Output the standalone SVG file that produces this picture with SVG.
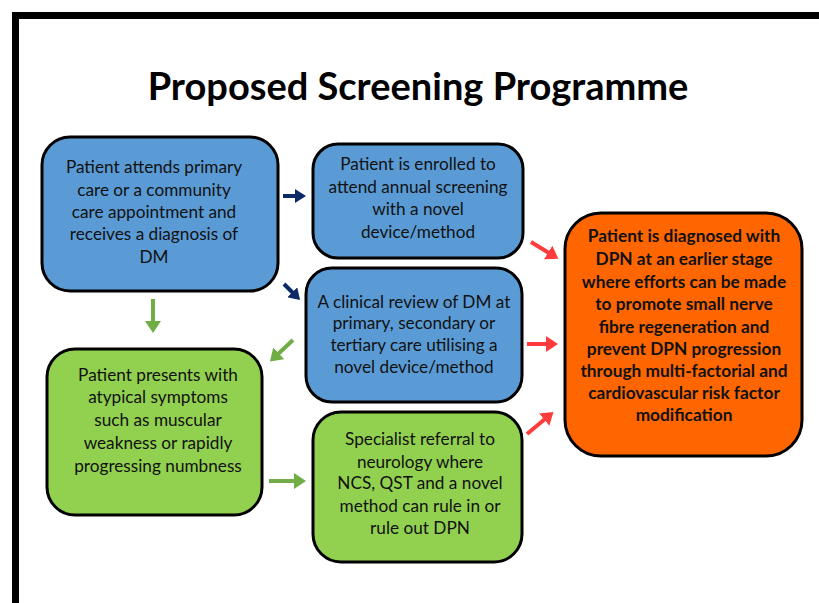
<svg xmlns="http://www.w3.org/2000/svg" width="819" height="603" viewBox="0 0 819 603">
<style>
.box{stroke:#000;stroke-width:3}
.blue{fill:#5B9BD5}
.green{fill:#92D050}
.orange{fill:#FF6600}
.t{font-family:Lato,"Open Sans",sans-serif;font-size:17.2px;fill:#111;text-anchor:middle}
.tb{font-family:Lato,"Open Sans",sans-serif;font-size:17.3px;font-weight:bold;fill:#111;text-anchor:middle}
.title{font-family:Lato,"Open Sans",sans-serif;font-size:38px;font-weight:bold;fill:#000;text-anchor:middle}
.an{stroke:#0E2A66;stroke-width:4;fill:none}
.ag{stroke:#70AD47;stroke-width:4;fill:none}
.ar{stroke:#FF3B3B;stroke-width:4;fill:none}
</style>
<defs>
<marker id="hn" markerUnits="userSpaceOnUse" markerWidth="12" markerHeight="14" refX="1" refY="7" orient="auto"><path d="M0,0 L11,7 L0,14 Z" fill="#0E2A66"/></marker>
<marker id="hg" markerUnits="userSpaceOnUse" markerWidth="13" markerHeight="16" refX="1" refY="8" orient="auto"><path d="M0,0 L12,8 L0,16 Z" fill="#70AD47"/></marker>
<marker id="hr" markerUnits="userSpaceOnUse" markerWidth="13" markerHeight="16" refX="1" refY="8" orient="auto"><path d="M0,0 L12,8 L0,16 Z" fill="#FF3B3B"/></marker>
</defs>
<rect x="0" y="0" width="819" height="603" fill="#fff"/>
<rect x="15.5" y="15.5" width="900" height="700" fill="none" stroke="#000" stroke-width="7"/>
<text class="title" x="418" y="100">Proposed Screening Programme</text>

<g id="connectors">
<path class="an" d="M283,196 L296,196" marker-end="url(#hn)"/>
<path class="an" d="M284,284 L293,293" marker-end="url(#hn)"/>
<path class="ag" d="M153,299 L153,322" marker-end="url(#hg)"/>
<path class="ag" d="M293,340 L278,354" marker-end="url(#hg)"/>
<path class="ag" d="M269,481 L295,481" marker-end="url(#hg)"/>
<path class="ar" d="M531,242 L549,253" marker-end="url(#hr)"/>
<path class="ar" d="M527,344 L547,344" marker-end="url(#hr)"/>
<path class="ar" d="M527,434 L545,419" marker-end="url(#hr)"/>
</g>

<g id="n1">
<rect class="box blue" x="42" y="137" width="236" height="154" rx="28"/>
<text class="t" x="154" y="173">Patient attends primary</text>
<text class="t" x="154" y="196">care or a community</text>
<text class="t" x="154" y="218">care appointment and</text>
<text class="t" x="154" y="240">receives a diagnosis of</text>
<text class="t" x="154" y="263">DM</text>
</g>

<g id="n2">
<rect class="box blue" x="313" y="144" width="210" height="114" rx="25"/>
<text class="t" x="418" y="170">Patient is enrolled to</text>
<text class="t" x="418" y="193">attend annual screening</text>
<text class="t" x="418" y="215">with a novel</text>
<text class="t" x="418" y="238">device/method</text>
</g>

<g id="n3">
<rect class="box blue" x="306" y="268" width="216" height="134" rx="26"/>
<text class="t" x="414" y="308">A clinical review of DM at</text>
<text class="t" x="414" y="329">primary, secondary or</text>
<text class="t" x="414" y="351">tertiary care utilising a</text>
<text class="t" x="414" y="373">novel device/method</text>
</g>

<g id="n4">
<rect class="box green" x="47" y="349" width="215" height="166" rx="28"/>
<text class="t" x="158" y="381">Patient presents with</text>
<text class="t" x="158" y="403">atypical symptoms</text>
<text class="t" x="158" y="426">such as muscular</text>
<text class="t" x="158" y="449">weakness or rapidly</text>
<text class="t" x="158" y="472">progressing numbness</text>
</g>

<g id="n5">
<rect class="box green" x="313" y="412" width="209" height="150" rx="28"/>
<text class="t" x="420" y="445">Specialist referral to</text>
<text class="t" x="420" y="468">neurology where</text>
<text class="t" x="420" y="489">NCS, QST and a novel</text>
<text class="t" x="420" y="512">method can rule in or</text>
<text class="t" x="420" y="534">rule out DPN</text>
</g>

<g id="n6">
<rect class="box orange" x="565" y="213" width="237" height="243" rx="36"/>
<text class="tb" x="684" y="242">Patient is diagnosed with</text>
<text class="tb" x="684" y="265">DPN at an earlier stage</text>
<text class="tb" x="684" y="288">where efforts can be made</text>
<text class="tb" x="684" y="310">to promote small nerve</text>
<text class="tb" x="684" y="333">fibre regeneration and</text>
<text class="tb" x="684" y="355">prevent DPN progression</text>
<text class="tb" x="684" y="377">through multi-factorial and</text>
<text class="tb" x="684" y="399">cardiovascular risk factor</text>
<text class="tb" x="684" y="421">modification</text>
</g>
</svg>
